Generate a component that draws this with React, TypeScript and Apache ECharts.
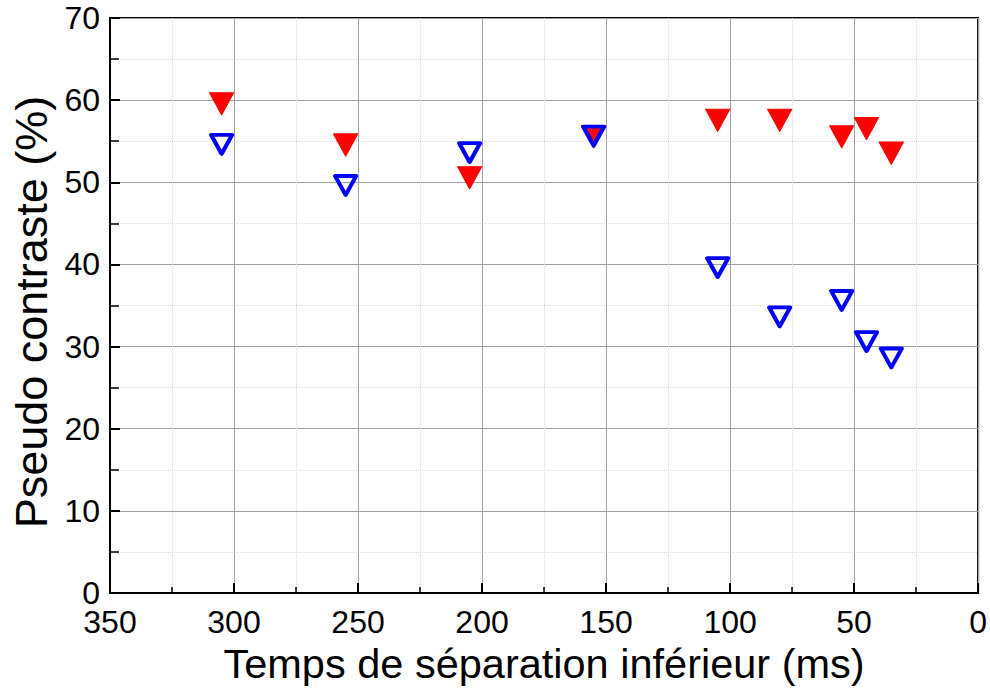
import React, { useEffect, useRef } from "react";
import * as echarts from "echarts";

const xValues = [305, 255, 205, 155, 105, 80, 55, 45, 35];
const redValues = [60, 55, 51, 56, 58, 58, 56, 57, 54];
const blueValues = [55, 50, 54, 56, 40, 34, 36, 31, 29];
const xTitle = "Temps de séparation inférieur (ms)";
const yTitle = "Pseudo contraste (%)";

const FONT = "Liberation Sans, Arial, sans-serif";

export default function App() {
  const ref = useRef<HTMLDivElement>(null);
  useEffect(() => {
    document.body.style.margin = "0";
    const chart = echarts.init(ref.current!, null, { renderer: "svg" });
    const redData = xValues.map((x, i) => [x, redValues[i]]);
    const blueData = xValues.map((x, i) => [x, blueValues[i]]);
    chart.setOption({
      animation: false,
      backgroundColor: "#ffffff",
      grid: {
        left: 110,
        right: 11,
        top: 18,
        bottom: 99,
        show: true,
        borderColor: "#000",
        borderWidth: 2,
        backgroundColor: "transparent",
      },
      xAxis: {
        type: "value",
        inverse: true,
        min: 0,
        max: 350,
        interval: 50,
        name: xTitle,
        nameLocation: "middle",
        nameGap: 49,
        nameTextStyle: { fontFamily: FONT, fontSize: 41.5, color: "#000" },
        axisLine: { show: true, onZero: false, lineStyle: { color: "#000", width: 2 } },
        axisTick: { show: true, inside: true, length: 10, lineStyle: { color: "#000", width: 2 } },
        minorTick: { show: true, splitNumber: 2, length: 6, lineStyle: { color: "#000", width: 1.5 } },
        axisLabel: { fontFamily: FONT, fontSize: 32, lineHeight: 24, color: "#000", margin: 17 },
        splitLine: { show: true, lineStyle: { color: "#a0a0a0", width: 1 } },
        minorSplitLine: { show: true, lineStyle: { color: "#dcdcdc", width: 1, type: "dotted" } },
      },
      yAxis: {
        type: "value",
        min: 0,
        max: 70,
        interval: 10,
        name: yTitle,
        nameLocation: "middle",
        nameGap: 56,
        nameTextStyle: { fontFamily: FONT, fontSize: 45, color: "#000", padding: [0, 13, 0, 0] },
        axisLine: { show: true, onZero: false, lineStyle: { color: "#000", width: 2 } },
        axisTick: { show: true, inside: true, length: 10, lineStyle: { color: "#000", width: 2 } },
        minorTick: { show: true, splitNumber: 2, length: 9, lineStyle: { color: "#000", width: 1.5 } },
        axisLabel: { fontFamily: FONT, fontSize: 32, lineHeight: 24, color: "#000", margin: 10 },
        splitLine: { show: true, lineStyle: { color: "#a0a0a0", width: 1 } },
        minorSplitLine: { show: true, lineStyle: { color: "#dcdcdc", width: 1, type: "dotted" } },
      },
      series: [
        {
          type: "scatter",
          data: redData,
          symbol: "triangle",
          symbolRotate: 180,
          symbolSize: [24, 22],
          symbolOffset: [0, 3.7],
          itemStyle: { color: "#ff0000", borderColor: "#ff0000", borderWidth: 1.2, borderJoin: "round", opacity: 1 },
          z: 3,
        },
        {
          type: "scatter",
          data: blueData,
          symbol: "triangle",
          symbolRotate: 180,
          symbolSize: [21, 19],
          symbolOffset: [0, 3.2],
          itemStyle: { color: "rgba(0,0,0,0)", borderColor: "#0000ff", borderWidth: 4, borderJoin: "round", opacity: 1 },
          z: 4,
        },
      ],
    });
    return () => chart.dispose();
  }, []);
  return (
    <div
      ref={ref}
      style={{ position: "absolute", left: 0, top: 0, width: 990, height: 692 }}
    />
  );
}
